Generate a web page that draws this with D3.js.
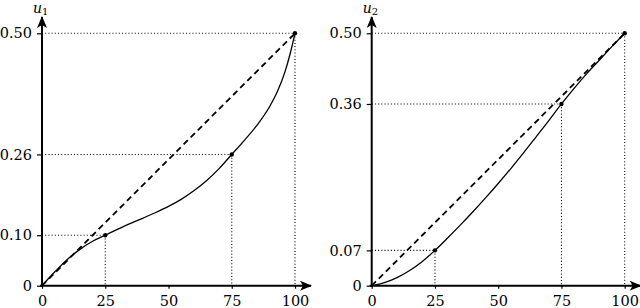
<!DOCTYPE html>
<html><head><meta charset="utf-8">
<script src="https://cdn.jsdelivr.net/npm/d3@7"></script>
<style>
html,body{margin:0;padding:0;background:#fff;}
svg{display:block;}
text{font-family:"DejaVu Serif","Liberation Serif",serif;}
</style></head>
<body>
<svg id="c" width="640" height="308"></svg>
<script>
// ---- data ----
const xTicks = [0, 25, 50, 75, 100];
const yTicks1 = [0, 0.10, 0.26, 0.50];
const yTicks2 = [0, 0.07, 0.36, 0.50];
const marked1 = [[25, 0.10], [75, 0.26], [100, 0.50]];
const marked2 = [[25, 0.07], [75, 0.36], [100, 0.50]];
const curve1X = [0, 5, 10, 15, 20, 25, 30, 35, 40, 45, 50, 55, 60, 65, 70, 75, 80, 85, 90, 93, 96, 98, 100];
const curve1Y = [0, 0.027, 0.052, 0.072, 0.088, 0.10, 0.112, 0.1235, 0.134, 0.145, 0.157, 0.171, 0.188, 0.208, 0.232, 0.26, 0.288, 0.318, 0.355, 0.384, 0.423, 0.458, 0.50];
const curve2X = [0, 5, 10, 15, 20, 25, 30, 35, 40, 45, 50, 55, 60, 65, 70, 75, 80, 85, 90, 95, 100];
const curve2Y = [0, 0.006, 0.016, 0.03, 0.048, 0.07, 0.0945, 0.12, 0.1465, 0.174, 0.2025, 0.232, 0.263, 0.295, 0.327, 0.36, 0.391, 0.42, 0.447, 0.474, 0.50];
const diagX = [0, 100];
const diagY = [0, 0.50];
const labels = ["1", "2"];

const panels = [
  {ox: 42, yTicks: yTicks1, marked: marked1, cx: curve1X, cy: curve1Y, sub: labels[0]},
  {ox: 371.7, yTicks: yTicks2, marked: marked2, cx: curve2X, cy: curve2Y, sub: labels[1]}
];

const svg = d3.select("#c");
const defs = svg.append("defs");
defs.append("marker").attr("id","arr").attr("viewBox","0 0 12 10")
  .attr("refX",11).attr("refY",5).attr("markerWidth",12).attr("markerHeight",10)
  .attr("markerUnits","userSpaceOnUse").attr("orient","auto")
  .append("path").attr("d","M0,0 L12,5 L0,10 L3,5 Z").attr("fill","#000");

const y0px = 285.7, y1px = 33.3, w = 253;

panels.forEach(p => {
  const x = d3.scaleLinear().domain([0, 100]).range([p.ox, p.ox + w]);
  const y = d3.scaleLinear().domain([0, 0.5]).range([y0px, y1px]);
  const g = svg.append("g");

  // dotted guides
  p.marked.forEach(([mx, my]) => {
    g.append("line").attr("x1", x(0)).attr("x2", x(mx)).attr("y1", y(my)).attr("y2", y(my))
      .attr("stroke","#000").attr("stroke-width",1.1).attr("stroke-dasharray","1,2.2");
    g.append("line").attr("x1", x(mx)).attr("x2", x(mx)).attr("y1", y(my)).attr("y2", y(0))
      .attr("stroke","#000").attr("stroke-width",1.1).attr("stroke-dasharray","1,2.2");
  });

  // dashed diagonal
  const diag = diagX.map((d,i)=>[d, diagY[i]]);
  g.append("path").datum(diag)
    .attr("d", d3.line().x(d=>x(d[0])).y(d=>y(d[1])))
    .attr("fill","none").attr("stroke","#000").attr("stroke-width",1.8)
    .attr("stroke-dasharray","6,4");

  // curve
  const pts = p.cx.map((d,i)=>[d, p.cy[i]]);
  g.append("path").datum(pts)
    .attr("d", d3.line().x(d=>x(d[0])).y(d=>y(d[1])).curve(d3.curveMonotoneX))
    .attr("fill","none").attr("stroke","#000").attr("stroke-width",1.3);

  // dots
  g.selectAll("circle.m").data(p.marked).join("circle")
    .attr("cx", d=>x(d[0])).attr("cy", d=>y(d[1])).attr("r", 2.2).attr("fill","#000");

  // axes
  const xa = g.append("g").attr("transform", `translate(0,${y0px})`)
    .call(d3.axisBottom(x).tickValues(xTicks).tickSize(3).tickPadding(7).tickFormat(d3.format("d")));
  xa.select(".domain").remove();
  const ya = g.append("g").attr("transform", `translate(${p.ox},0)`)
    .call(d3.axisLeft(y).tickValues(p.yTicks).tickSize(5).tickPadding(5)
      .tickFormat(d => d === 0 ? "0" : d3.format(".2f")(d)));
  ya.select(".domain").remove();
  [xa, ya].forEach(a => {
    a.selectAll("text").attr("font-size", 14.5).attr("font-family","DejaVu Serif").attr("fill","#000");
    a.selectAll("line").attr("stroke","#000").attr("stroke-width",1.2);
  });

  // axis lines with arrows
  g.append("line").attr("x1", p.ox - 2).attr("x2", p.ox + w + 16).attr("y1", y0px).attr("y2", y0px)
    .attr("stroke","#000").attr("stroke-width",2).attr("marker-end","url(#arr)");
  g.append("line").attr("x1", p.ox).attr("x2", p.ox).attr("y1", y0px + 1).attr("y2", 17)
    .attr("stroke","#000").attr("stroke-width",2).attr("marker-end","url(#arr)");

  // axis label u_i
  const t = g.append("text").attr("x", p.ox - 9).attr("y", 13).attr("font-size", 14);
  t.append("tspan").attr("font-style","italic").text("u");
  t.append("tspan").attr("font-size", 10).attr("dy", 2).text(p.sub);
});
</script>
</body></html>
